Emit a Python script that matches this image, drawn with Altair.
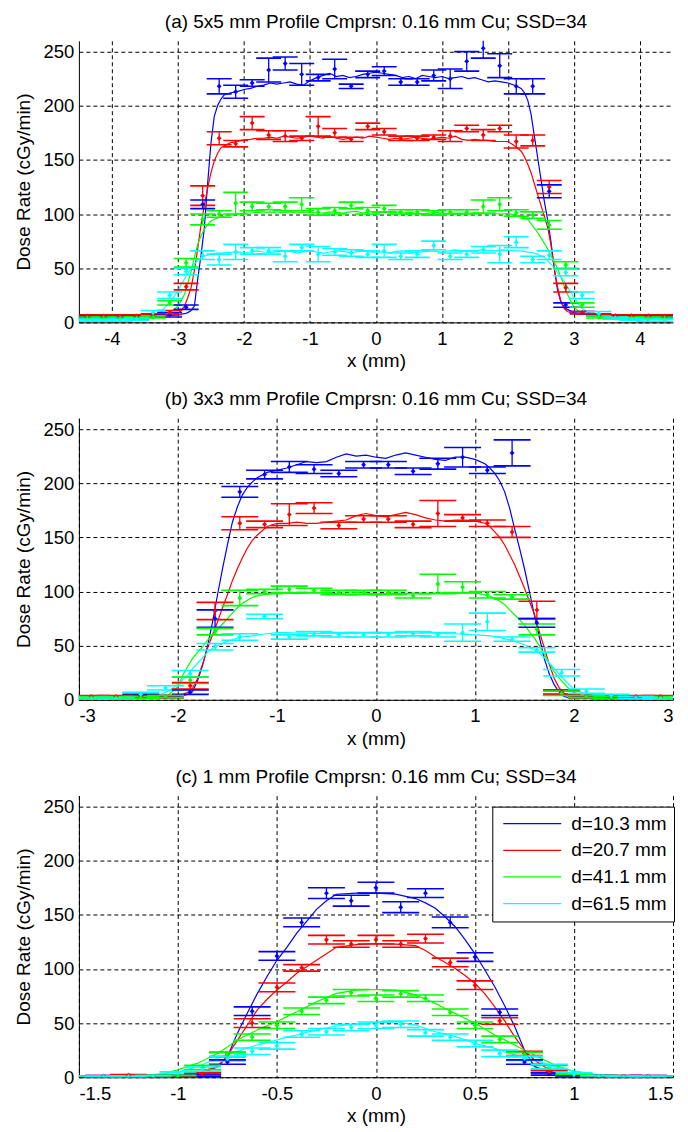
import altair as alt
import pandas as pd

FONT = "Liberation Sans, Arial, Helvetica, sans-serif"
SERIES = ["d=10.3 mm", "d=20.7 mm", "d=41.1 mm", "d=61.5 mm"]
COLORS = ["#0000ff", "#ff0000", "#00ff00", "#00ffff"]
Y_TICKS = [0, 50, 100, 150, 200, 250]

# ---------------- panel (a) 5x5 mm ----------------
xa_line = [-4.5, -4.0, -3.5, -3.3, -3.1,
           -3.0, -2.95, -2.9, -2.85, -2.8, -2.75, -2.7, -2.65, -2.6, -2.55, -2.5, -2.45, -2.4, -2.35, -2.3,
           -2.2, -2.1, -2.0, -1.9, -1.8, -1.7, -1.6, -1.5, -1.4, -1.3, -1.2, -1.1, -1.0, -0.9, -0.8, -0.7,
           -0.6, -0.5, -0.4, -0.3, -0.2, -0.1, 0.0, 0.1, 0.2, 0.3, 0.4, 0.5, 0.6, 0.7, 0.8, 0.9, 1.0,
           1.1, 1.2, 1.3, 1.4, 1.5, 1.6, 1.7, 1.8, 1.9, 2.0, 2.1, 2.2,
           2.25, 2.3, 2.35, 2.4, 2.45, 2.5, 2.55, 2.6, 2.65, 2.7, 2.75, 2.8, 2.85, 2.9,
           3.0, 3.1, 3.3, 3.5, 4.0, 4.5]
a_line_blue = [5, 5, 5.5, 6, 6.5,
               7, 7.5, 8, 9, 11, 15, 40, 62, 87, 128, 165, 190, 200, 206, 210,
               212, 213, 215, 216, 218, 219, 221, 220, 221, 222, 220, 219, 223, 226, 228, 230,
               227, 228, 226, 227, 229, 230, 231, 230, 229, 228, 226, 227, 225, 228, 227, 226, 227,
               225, 226, 227, 225, 226, 224, 222, 223, 222, 221, 219, 216,
               212, 205, 192, 172, 152, 132, 112, 95, 75, 50, 30, 19, 14, 12,
               9, 8, 7, 6, 6, 6]
a_line_red = [6, 6, 6.5, 7, 7.5,
              8, 11, 15, 23, 32, 48, 68, 90, 108, 124, 138, 149, 156, 161, 163,
              166, 167, 168.5, 169, 170, 170, 171, 170, 172, 171, 170, 171, 172, 171, 170, 172,
              170, 169, 170, 171, 170, 172, 171, 170, 169, 170, 169, 170, 171, 170, 169, 170, 171,
              170, 172, 169, 168, 169, 168, 168, 167, 167, 167, 163, 158,
              153, 146, 138, 128, 118, 108, 98, 88, 72, 50, 33, 20, 13, 10,
              8, 7.5, 7, 6.5, 6, 6]
a_line_green = [4, 4, 4.5, 6, 10,
                15, 20, 26, 36, 47, 60, 72, 80, 86, 90, 93.6, 95, 96.5, 97.5, 98,
                99, 100, 101, 101, 101.5, 101, 102, 101, 101.5, 102, 101, 101.5, 102, 101, 101, 102,
                101.5, 101, 102, 102.5, 101, 102, 102, 101.5, 101, 102, 101, 101.5, 101, 100.5, 101, 101.5, 101,
                100.5, 101, 101, 100.5, 101, 100.5, 100, 100.5, 100, 100.5, 99.5, 98,
                96.5, 95, 91, 87, 83, 78, 73, 68, 62, 56, 50, 42, 34, 26,
                14, 9, 6, 5, 4, 4]
a_line_cyan = [2, 2, 4, 7, 20,
               29, 35, 40, 45, 50, 54, 57, 60, 61, 62, 63, 63.5, 64, 64, 64.5,
               64.5, 65, 64.5, 65, 66, 65, 64.5, 65, 66, 65.5, 64, 65, 66, 65, 64, 65,
               66, 65.5, 64.5, 65, 66, 65, 64.5, 65, 64, 65.5, 66, 65, 64.5, 65, 66, 65.5, 65,
               66, 67, 66, 65.5, 66, 67, 66.5, 66, 67, 66.5, 66, 66,
               65.5, 65, 64.5, 64, 63, 61.5, 60, 57, 54, 50.6, 46, 42, 38, 33,
               23, 14, 6, 4, 3, 3]

xa_pts = [-4.375, -4.125, -3.875, -3.625, -3.375, -3.125, -2.875, -2.625, -2.375, -2.125,
          -1.875, -1.625, -1.375, -1.125, -0.875, -0.625, -0.375, -0.125, 0.125, 0.375,
          0.625, 0.875, 1.125, 1.375, 1.625, 1.875, 2.125, 2.375, 2.625, 2.875,
          3.125, 3.375, 3.625, 3.875, 4.125, 4.375]
a_pts_blue = [5, 5, 5, 5, 6, 7, 14, 109, 218, 213, 221, 233, 239, 229, 226, 234, 218, 229,
              232, 222, 222, 228, 225, 241, 253, 237, 218, 218, 121, 16, 9, 7, 6, 6, 6, 5]
a_err_blue = [1, 1, 1, 1, 1, 2, 2, 4, 7, 6, 3, 11, 6, 10, 3, 9, 2, 3,
              4, 3, 3, 5, 9, 9, 9, 11, 7, 7, 6, 2, 1, 1, 1, 1, 1, 1]
a_pts_red = [6, 6, 6, 6, 7, 9, 33, 117, 170, 165, 184, 173, 172, 170, 181, 175, 169, 181,
             176, 170, 170, 171, 172, 179, 173, 179, 167, 168, 125, 32, 9, 7, 6, 6, 6, 6]
a_err_red = [1, 1, 1, 1, 1, 2, 3, 9, 6, 3, 6, 4, 5, 2, 9, 4, 2, 3,
             3, 2, 2, 2, 5, 3, 5, 3, 6, 5, 6, 4, 1, 1, 1, 1, 1, 1]
a_pts_green = [4, 4, 4, 4, 5, 18, 55, 95, 100, 110, 107, 107, 107, 109, 102, 103, 108, 103,
               105, 102, 102, 101, 102, 102, 107, 109, 101, 99, 90, 53, 16, 5, 4, 4, 4, 4]
a_err_green = [1, 1, 1, 1, 1, 2, 4, 5, 3, 10, 4, 3, 4, 6, 3, 3, 3, 3,
               3, 2, 2, 2, 2, 2, 6, 6, 3, 3, 4, 3, 2, 1, 1, 1, 1, 1]
a_pts_cyan = [2, 2, 2, 3, 9, 25, 47, 62, 58, 65, 66, 66, 61, 69, 63, 65, 64, 63,
              66, 61, 63, 71, 61, 63, 67, 63, 74, 58, 62, 46, 25, 8, 4, 3, 2, 2]
a_err_cyan = [1, 1, 1, 1, 2, 3, 3, 4, 5, 7, 3, 3, 5, 3, 7, 3, 3, 3,
              6, 3, 3, 4, 3, 3, 3, 8, 5, 3, 4, 3, 3, 2, 1, 1, 1, 1]

# ---------------- panel (b) 3x3 mm ----------------
xb_line = [-3.0, -2.5, -2.2, -2.1,
           -2.0, -1.95, -1.9, -1.85, -1.8, -1.75, -1.7, -1.65, -1.6, -1.55, -1.5, -1.45, -1.4, -1.35, -1.3, -1.25, -1.2,
           -1.1, -1.0, -0.9, -0.8, -0.7, -0.6, -0.5, -0.4, -0.3, -0.2, -0.1, 0.0, 0.1, 0.2, 0.3, 0.4, 0.5, 0.6, 0.7,
           0.8, 0.9, 1.0, 1.1,
           1.15, 1.2, 1.25, 1.3, 1.35, 1.4, 1.45, 1.5, 1.55, 1.6, 1.65, 1.7, 1.75, 1.8, 1.85, 1.9, 1.95, 2.0,
           2.1, 2.2, 2.5, 3.0]
b_line_blue = [2, 2, 2, 2.5,
               3, 4, 5, 8, 18, 32, 50, 72, 97, 121, 143, 164, 178, 189, 196, 201, 205,
               210, 212, 214, 217, 220, 219, 220, 224, 227, 225, 226, 224, 223, 226, 228, 226, 224, 222, 221,
               224, 224, 222, 218,
               214, 209, 202, 192, 177, 158, 140, 121, 100, 78, 58, 38, 24, 14, 7, 3, 2, 2,
               2, 2, 2, 2]
b_line_red = [3, 3, 3, 3,
              4, 5, 7, 11, 20, 33, 48, 60, 72, 85, 97, 110, 121, 131, 140, 147, 152,
              160, 163, 163, 164, 163, 163, 164, 165, 166, 170, 172, 170, 169, 171, 173, 171, 168, 166, 165,
              166, 166, 165, 163,
              160, 155, 150, 143, 134, 125, 114, 103, 91, 79, 63, 48, 33, 20, 11, 6, 4, 3,
              3, 3, 3, 3]
b_line_green = [3, 3, 3, 4,
                12, 23, 31, 38.5, 44, 49, 55, 60, 65, 70, 75, 80, 85, 89, 92, 94.5, 96,
                97.5, 98.5, 98.5, 98, 98.5, 99, 98.5, 98, 98.5, 99, 98.5, 98, 98, 98.5, 98, 98.5, 98, 98.5, 99,
                98.5, 98.5, 98.5, 97,
                95.5, 94, 91, 88, 83, 78.5, 74, 69, 63, 57, 50, 42, 34, 26, 20, 15, 10, 6,
                3, 3, 3, 3]
b_line_cyan = [1, 2, 4, 8,
               14, 19, 23, 29, 34, 39, 44, 47.7, 50, 52, 54, 55.5, 57, 58, 58.5, 59, 60,
               61, 62, 62, 61.5, 61.5, 61, 61.5, 61.5, 61, 61.5, 62, 61.5, 61.5, 62, 62, 61.5, 62, 61.5, 61,
               61, 60.5, 60, 59.5,
               59, 58.5, 57.5, 56.5, 55.4, 54, 52.5, 50.8, 48.5, 46, 43, 39, 34, 29, 24, 19, 14, 10,
               6, 4, 2, 1]

xb_pts = [-2.875, -2.625, -2.375, -2.125, -1.875, -1.625, -1.375, -1.125, -0.875, -0.625,
          -0.375, -0.125, 0.125, 0.375, 0.625, 0.875, 1.125, 1.375, 1.625, 1.875,
          2.125, 2.375, 2.625, 2.875]
b_pts_blue = [2, 2, 4, 3, 7, 75, 192, 208, 215, 213, 209, 217, 217, 211, 218, 224, 212, 228, 71, 7, 3, 2, 2, 2]
b_err_blue = [1, 1, 1, 1, 2, 8, 5, 4, 5, 4, 3, 3, 3, 3, 5, 9, 3, 12, 4, 2, 1, 1, 1, 1]
b_pts_red = [3, 3, 3, 3, 13, 82, 163, 162, 171, 177, 161, 167, 167, 162, 172, 168, 163, 155, 83, 7, 3, 3, 3, 3]
b_err_red = [1, 1, 1, 1, 3, 8, 6, 3, 10, 5, 3, 3, 3, 3, 12, 3, 3, 5, 8, 2, 1, 1, 1, 1]
b_pts_green = [2, 2, 2, 3, 18, 63, 94, 100, 102, 101, 99, 99, 99, 96, 107, 104, 97, 95, 65, 6, 3, 2, 2, 2]
b_err_green = [1, 1, 1, 1, 3, 3, 7, 2, 3, 2, 2, 2, 2, 2, 9, 5, 3, 2, 5, 2, 1, 1, 1, 1]
b_pts_cyan = [1, 1, 5, 11, 24, 49, 58, 77, 58, 61, 60, 60, 60, 61, 60, 62, 72, 56, 46, 25, 8, 4, 2, 1]
b_err_cyan = [1, 1, 2, 2, 3, 3, 3, 2, 2, 2, 2, 2, 2, 2, 2, 8, 8, 2, 2, 3, 2, 1, 1, 1]

# ---------------- panel (c) 1 mm ----------------
xc_line = [-1.5, -1.3, -1.2, -1.1, -1.0, -0.9, -0.8,
           -0.75, -0.7, -0.65, -0.6, -0.55, -0.5, -0.45, -0.4, -0.35, -0.3, -0.25, -0.2,
           -0.1, 0.0, 0.1,
           0.2, 0.25, 0.3, 0.35, 0.4, 0.45, 0.5, 0.55, 0.6, 0.65, 0.7, 0.75, 0.8,
           0.9, 1.0, 1.1, 1.2, 1.3, 1.5]
c_line_blue = [1, 1, 1, 1, 1.5, 2, 9.8,
               19, 40.5, 59, 77, 93, 108, 120, 133, 144, 155, 163, 169,
               170, 170, 169,
               165, 161, 156, 148, 139, 127, 114, 99, 83.5, 66, 47, 25, 10,
               3, 1.5, 1, 1, 1, 1]
c_line_red = [1, 1, 1, 1.2, 1.5, 4, 10,
              20, 34, 48, 62, 72, 80.5, 88, 96, 102, 108, 114, 120,
              122.5, 123.5, 123,
              121.5, 117, 111, 106, 100.5, 94, 86.6, 77, 65, 52, 37.5, 25, 16,
              3.7, 1.5, 1.2, 1, 1, 1]
c_line_green = [1, 1, 1.5, 2, 6.8, 13, 22,
                28, 34.4, 39, 43.6, 47.5, 51.3, 56, 60.5, 65, 69.7, 73.5, 77.4,
                80.5, 81, 80.5,
                76, 72, 68.2, 63.5, 59, 54.5, 49.8, 44.5, 39, 34.5, 29.8, 25, 20.6,
                11.4, 5.2, 2, 1.5, 1, 1]
c_line_cyan = [1, 1, 1, 3, 5, 9.8, 17.5,
               20.5, 23.6, 27, 29.8, 32, 34.4, 37, 39, 41.5, 43.6, 45.5, 47.3,
               49, 50.4, 51.3,
               48.2, 45, 42, 40, 37.5, 34.5, 31.3, 29, 26.7, 23.5, 20.6, 18, 16,
               9.8, 5.8, 3, 1.5, 1, 1]

xc_pts = [-1.375, -1.25, -1.125, -1.0, -0.875, -0.75, -0.625, -0.5, -0.375, -0.25, -0.125, 0.0,
          0.125, 0.25, 0.375, 0.5, 0.625, 0.75, 0.875, 1.0, 1.125, 1.25, 1.375]
c_pts_blue = [1, 1, 1, 1, 2, 14, 61, 112, 143, 170, 163, 175, 157, 170, 143, 111, 60, 14, 3, 1, 1, 1, 1]
c_err_blue = [0.5, 0.5, 0.5, 0.5, 1, 2, 4, 4, 4, 5, 5, 5, 5, 4, 5, 4, 3, 2, 1, 0.5, 0.5, 0.5, 0.5]
c_pts_red = [1, 2, 1, 1, 3, 21, 50, 83, 101, 127, 123, 127, 123, 128, 106, 85, 52, 22, 5, 2, 1, 1, 1]
c_err_red = [0.5, 0.5, 0.5, 0.5, 1, 2, 4, 4, 3, 4, 3, 4, 3, 4, 4, 4, 3, 2, 1, 0.5, 0.5, 0.5, 0.5]
c_pts_green = [0.5, 0.5, 1, 1.2, 9, 21, 37, 48, 61, 71, 78, 73, 77, 73, 60, 48, 35, 21, 9, 2, 1, 0.5, 0.5]
c_err_green = [0.5, 0.5, 0.5, 0.5, 2, 2, 3, 3, 3, 3, 3, 3, 3, 3, 3, 3, 3, 2, 2, 0.5, 0.5, 0.5, 0.5]
c_pts_cyan = [0.5, 0.5, 1, 4, 7.5, 17, 24, 29, 40, 42, 46, 48, 49, 41, 37, 31, 22, 17.5, 10, 3, 1, 0.5, 0.5]
c_err_cyan = [0.5, 0.5, 0.5, 1, 2, 2, 3, 3, 3, 3, 3, 3, 3, 3, 3, 3, 3, 2, 2, 1, 0.5, 0.5, 0.5]


def line_frame(xs, ys_list):
    rows = []
    for name, ys in zip(SERIES, ys_list):
        for xv, yv in zip(xs, ys):
            rows.append({"x": xv, "y": yv, "series": name})
    return pd.DataFrame(rows)


def pts_frame(xs, ys_list, errs_list):
    rows = []
    for name, ys, es in zip(SERIES, ys_list, errs_list):
        for xv, yv, ev in zip(xs, ys, es):
            rows.append({"x": xv, "y": yv, "lo": yv - ev, "hi": yv + ev, "series": name})
    return pd.DataFrame(rows)


def panel(title, lines, pts, xdom, xticks, cap, legend):
    xscale = alt.Scale(domain=xdom, nice=False, zero=False)
    yscale = alt.Scale(domain=[0, 260], nice=False)
    xaxis = alt.Axis(values=xticks, title="x (mm)", labelExpr="toString(datum.value)")
    yaxis = alt.Axis(values=Y_TICKS, title="Dose Rate (cGy/min)")
    cscale = alt.Scale(domain=SERIES, range=COLORS)

    def X():
        return alt.X("x:Q", scale=xscale, axis=xaxis, title="x (mm)")

    def Y(field):
        return alt.Y(f"{field}:Q", scale=yscale, axis=yaxis, title="Dose Rate (cGy/min)")

    def C(leg=None):
        return alt.Color("series:N", scale=cscale, sort=SERIES, legend=leg)

    ln = alt.Chart(lines).mark_line(strokeWidth=1.2, clip=True).encode(
        x=X(), y=Y("y"), color=C(legend), order="x:Q")
    rule = alt.Chart(pts).mark_rule(strokeWidth=1.3, clip=True).encode(
        x=X(), y=Y("lo"), y2="hi:Q", color=C())
    cap_lo = alt.Chart(pts).mark_tick(orient="horizontal", size=cap, thickness=1.6, clip=True,
                                      opacity=1).encode(x=X(), y=Y("lo"), color=C())
    cap_hi = alt.Chart(pts).mark_tick(orient="horizontal", size=cap, thickness=1.6, clip=True,
                                      opacity=1).encode(x=X(), y=Y("hi"), color=C())
    dots = alt.Chart(pts).mark_point(filled=True, shape="diamond", size=24, opacity=1, clip=True).encode(
        x=X(), y=Y("y"), color=C())
    return alt.layer(ln, rule, cap_lo, cap_hi, dots).properties(
        width=595, height=282,
        title=alt.TitleParams(title, fontSize=19, fontWeight="normal", font=FONT,
                              color="black", offset=9, anchor="middle", frame="group"))


legend_c = alt.Legend(
    title=None, orient="none", legendX=414, legendY=11,
    symbolType="stroke", symbolSize=3364, symbolStrokeWidth=1.3,
    labelFontSize=19, labelFont=FONT, labelColor="black", labelLimit=300,
    strokeColor="black", fillColor="white", padding=7, rowPadding=6.7,
    clipHeight=20, labelOffset=9, symbolOffset=3,
)

pa = panel("(a) 5x5 mm Profile Cmprsn: 0.16 mm Cu; SSD=34",
           line_frame(xa_line, [a_line_blue, a_line_red, a_line_green, a_line_cyan]),
           pts_frame(xa_pts, [a_pts_blue, a_pts_red, a_pts_green, a_pts_cyan],
                     [a_err_blue, a_err_red, a_err_green, a_err_cyan]),
           [-4.5, 4.5], [-4, -3, -2, -1, 0, 1, 2, 3, 4], 25, None)
pb = panel("(b) 3x3 mm Profile Cmprsn: 0.16 mm Cu; SSD=34",
           line_frame(xb_line, [b_line_blue, b_line_red, b_line_green, b_line_cyan]),
           pts_frame(xb_pts, [b_pts_blue, b_pts_red, b_pts_green, b_pts_cyan],
                     [b_err_blue, b_err_red, b_err_green, b_err_cyan]),
           [-3, 3], [-3, -2, -1, 0, 1, 2, 3], 37, None)
pc = panel("(c) 1 mm Profile Cmprsn: 0.16 mm Cu; SSD=34",
           line_frame(xc_line, [c_line_blue, c_line_red, c_line_green, c_line_cyan]),
           pts_frame(xc_pts, [c_pts_blue, c_pts_red, c_pts_green, c_pts_cyan],
                     [c_err_blue, c_err_red, c_err_green, c_err_cyan]),
           [-1.5, 1.5], [-1.5, -1, -0.5, 0, 0.5, 1, 1.5], 37, legend_c)

chart = alt.vconcat(pa, pb, pc, spacing=19).resolve_scale(color="independent").properties(
    padding={"left": 6, "top": 4, "right": 5, "bottom": 5}
).configure_view(stroke=None).configure_axis(
    labelFont=FONT, labelFontSize=18.5, labelColor="black",
    titleFont=FONT, titleFontSize=19, titleColor="black", titleFontWeight="normal",
    domainColor="black", domainWidth=1,
    grid=True, gridColor="black", gridDash=[4, 3], gridOpacity=1, gridWidth=1,
    ticks=False,
).configure_axisX(labelPadding=7, titlePadding=4).configure_axisY(labelPadding=5, titlePadding=10)

chart.save("out.html", embed_options={"renderer": "svg", "actions": False})
